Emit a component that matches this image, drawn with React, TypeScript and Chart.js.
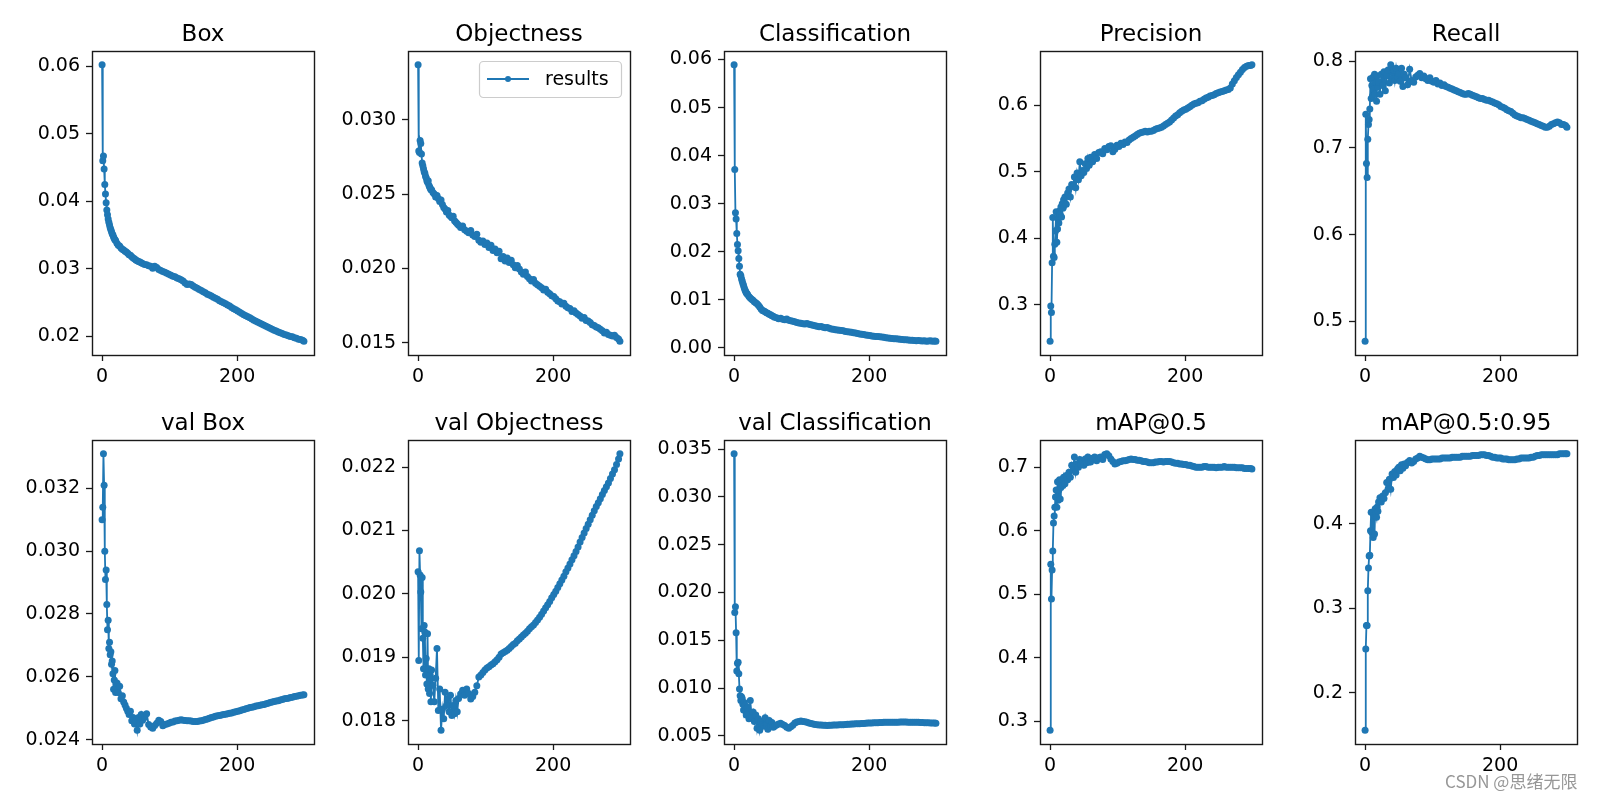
import React, { useEffect, useRef } from "react";
import { Chart, registerables } from "chart.js";

Chart.register(...registerables);

// ---------------- data ----------------
const epochs = [
  0, 1, 2, 3, 4, 5, 6, 7, 8, 9, 10, 11, 12, 13, 14, 15, 16, 17, 18, 19,
  20, 22, 24, 26, 28, 30, 32, 34, 36, 38, 40, 42, 44, 46, 48, 50, 52, 54, 56, 58,
  60, 63, 66, 69, 72, 75, 78, 81, 84, 87,
  90, 93, 96, 99, 102, 105, 108, 111, 114, 117,
  120, 123, 126, 129, 132, 135, 138, 141, 144, 147,
  150, 153, 156, 159, 162, 165, 168, 171, 174, 177,
  180, 183, 186, 189, 192, 195, 198, 201, 204, 207,
  210, 213, 216, 219, 222, 225, 228, 231, 234, 237,
  240, 243, 246, 249, 252, 255, 258, 261, 264, 267,
  270, 273, 276, 279, 282, 285, 288, 291, 294, 297,
  299,
];

const boxLoss = [
  0.0602, 0.046, 0.0467, 0.0448, 0.0425, 0.0411, 0.0398, 0.0387, 0.038, 0.0374,
  0.0369, 0.0365, 0.0361, 0.0358, 0.0355, 0.0352, 0.035, 0.0347, 0.0345, 0.0343,
  0.0342, 0.0338, 0.0335, 0.0334, 0.0331, 0.0329, 0.0328, 0.0326, 0.0325, 0.0323,
  0.0321, 0.032, 0.0318, 0.0316, 0.0315, 0.0313, 0.0312, 0.0311, 0.031, 0.0309,
  0.0308, 0.03065, 0.0306, 0.03045, 0.0304, 0.0301, 0.0304, 0.0302, 0.0299, 0.02975,
  0.0296, 0.0295, 0.02935, 0.0292, 0.02905, 0.0289, 0.02885, 0.02865, 0.02855, 0.0284,
  0.0282, 0.0279, 0.0277, 0.02775, 0.0277, 0.02745, 0.0273, 0.02715, 0.02695, 0.0268,
  0.0266, 0.02645, 0.02625, 0.02615, 0.026, 0.0258, 0.02565, 0.0255, 0.0253, 0.02515,
  0.025, 0.02485, 0.02465, 0.0245, 0.0243, 0.0241, 0.02395, 0.02375, 0.0236, 0.0234,
  0.0232, 0.02305, 0.0229, 0.02275, 0.0226, 0.0224, 0.02225, 0.0221, 0.02195, 0.0218,
  0.02165, 0.0215, 0.02135, 0.0212, 0.02105, 0.0209, 0.0208, 0.02065, 0.02055, 0.02045,
  0.0203, 0.0202, 0.0201, 0.02, 0.01995, 0.0198, 0.01975, 0.0196, 0.01955, 0.01945,
  0.0193,
];

const objLoss = [
  0.0337, 0.0279, 0.0278, 0.0286, 0.0284, 0.0277, 0.0271, 0.0269, 0.0267, 0.0265,
  0.0264, 0.0262, 0.0261, 0.0259, 0.0258, 0.0259, 0.0256, 0.0255, 0.0254, 0.0253,
  0.0253, 0.0251, 0.025, 0.0248, 0.0249, 0.0247, 0.0245, 0.0246, 0.0243, 0.0241,
  0.024, 0.0238, 0.0239, 0.0236, 0.0235, 0.0234, 0.0235, 0.0232, 0.0231, 0.023,
  0.0229, 0.02275, 0.02285, 0.0226, 0.0225, 0.0224, 0.02255, 0.02225, 0.02215, 0.0223,
  0.0219, 0.02175, 0.02185, 0.0216, 0.0217, 0.0214, 0.02155, 0.0212, 0.0213, 0.02105,
  0.02115, 0.02065, 0.0208, 0.0205, 0.0207, 0.0204, 0.02055, 0.02025, 0.02005, 0.0202,
  0.01995, 0.01975, 0.0196, 0.01975, 0.01945, 0.0193, 0.01915, 0.01925, 0.019, 0.0189,
  0.0188, 0.0187, 0.01855, 0.0186, 0.0184, 0.0183, 0.01815, 0.0181, 0.01795, 0.0178,
  0.01775, 0.0176, 0.01765, 0.01745, 0.01735, 0.0173, 0.0171, 0.01715, 0.017, 0.0169,
  0.0168, 0.01665, 0.0167, 0.0165, 0.01645, 0.01635, 0.0162, 0.01615, 0.01605, 0.016,
  0.0159, 0.0158, 0.01565, 0.0157, 0.01555, 0.0155, 0.01545, 0.0155, 0.01535, 0.01525,
  0.0151,
];

const clsLoss = [
  0.0589, 0.0371, 0.0281, 0.0268, 0.0238, 0.0215, 0.0202, 0.0186, 0.017, 0.0153,
  0.015, 0.0144, 0.0139, 0.0134, 0.013, 0.0125, 0.0121, 0.0118, 0.0115, 0.0113,
  0.0111, 0.0107, 0.0104, 0.0101, 0.0099, 0.0096, 0.0094, 0.0092, 0.0089, 0.0085,
  0.0081, 0.0078, 0.0077, 0.0075, 0.0073, 0.0072, 0.007, 0.0069, 0.0067, 0.0066,
  0.0064, 0.00625, 0.00605, 0.00615, 0.00595, 0.00585, 0.006, 0.00575, 0.00565, 0.00555,
  0.00545, 0.0053, 0.0052, 0.00515, 0.00505, 0.005, 0.0051, 0.0049, 0.0048, 0.0047,
  0.0046, 0.0045, 0.0044, 0.00445, 0.0043, 0.0042, 0.00425, 0.0041, 0.00395, 0.0039,
  0.0038, 0.00375, 0.00365, 0.0036, 0.00355, 0.0034, 0.00335, 0.0033, 0.00325, 0.00315,
  0.0031, 0.003, 0.0029, 0.00285, 0.0028, 0.0027, 0.00265, 0.0026, 0.0025, 0.00245,
  0.0024, 0.00235, 0.0023, 0.00225, 0.0022, 0.0021, 0.00205, 0.002, 0.00195, 0.0019,
  0.0019, 0.00185, 0.0018, 0.00175, 0.0017, 0.0017, 0.00165, 0.0016, 0.0016, 0.00155,
  0.0015, 0.00155, 0.0015, 0.00145, 0.0015, 0.0014, 0.00145, 0.0015, 0.0014, 0.00145,
  0.0014,
];

const precision = [
  0.245, 0.298, 0.288, 0.363, 0.431, 0.373, 0.371, 0.391, 0.411, 0.44,
  0.394, 0.414, 0.429, 0.423, 0.441, 0.436, 0.447, 0.432, 0.452, 0.445,
  0.458, 0.462, 0.451, 0.468, 0.474, 0.462, 0.481, 0.478, 0.492, 0.476,
  0.498, 0.488, 0.515, 0.494, 0.502, 0.499, 0.512, 0.505, 0.52, 0.51,
  0.522, 0.515, 0.526, 0.52, 0.529, 0.53, 0.527, 0.535, 0.533, 0.538,
  0.539, 0.53, 0.534, 0.54, 0.538, 0.543, 0.541, 0.545, 0.544, 0.548,
  0.55, 0.552, 0.554, 0.556, 0.558, 0.559, 0.56, 0.561, 0.56, 0.561,
  0.561, 0.562, 0.564, 0.565, 0.566, 0.567, 0.569, 0.571, 0.573, 0.575,
  0.578, 0.581, 0.584, 0.586, 0.589, 0.591, 0.593, 0.594, 0.596, 0.598,
  0.6, 0.602, 0.603, 0.604, 0.606, 0.607, 0.609, 0.611, 0.612, 0.614,
  0.615, 0.616, 0.618, 0.619, 0.62, 0.621, 0.622, 0.623, 0.624, 0.626,
  0.632, 0.637, 0.642, 0.646, 0.65, 0.654, 0.657, 0.659, 0.66, 0.66,
  0.661,
];

const recall = [
  0.477, 0.739, 0.682, 0.666, 0.71, 0.727, 0.733, 0.745, 0.78, 0.757,
  0.772, 0.76, 0.782, 0.768, 0.785, 0.762, 0.776, 0.754, 0.783, 0.77,
  0.776, 0.762, 0.785, 0.772, 0.788, 0.766, 0.783, 0.79, 0.775, 0.796,
  0.78, 0.79, 0.778, 0.792, 0.782, 0.786, 0.777, 0.792, 0.771, 0.785,
  0.781, 0.773, 0.791, 0.778, 0.776, 0.782, 0.784, 0.786, 0.781, 0.783,
  0.78, 0.778, 0.781, 0.777, 0.776, 0.778, 0.774, 0.775, 0.772, 0.773,
  0.771, 0.77, 0.769, 0.768, 0.767, 0.766, 0.765, 0.764, 0.763, 0.762,
  0.762, 0.763, 0.762, 0.761, 0.76, 0.759, 0.758, 0.757, 0.757, 0.756,
  0.755, 0.755, 0.754, 0.753, 0.752, 0.751, 0.75, 0.748, 0.747, 0.746,
  0.744, 0.743, 0.742, 0.74, 0.738, 0.737, 0.736, 0.735, 0.735, 0.734,
  0.733, 0.732, 0.731, 0.73, 0.729, 0.728, 0.727, 0.726, 0.725, 0.724,
  0.724, 0.725, 0.727, 0.728, 0.729, 0.73, 0.729, 0.727, 0.727, 0.726,
  0.724,
];

const valBoxLoss = [
  0.031, 0.0314, 0.0331, 0.0321, 0.03, 0.0291, 0.0294, 0.0283, 0.0275, 0.0278,
  0.0269, 0.0271, 0.0267, 0.0268, 0.0264, 0.0265, 0.0261, 0.0256, 0.0259, 0.0262,
  0.0255, 0.0258, 0.0255, 0.0257, 0.0253, 0.0254, 0.0252, 0.0251, 0.025, 0.0249,
  0.0248, 0.0249, 0.0246, 0.0247, 0.0245, 0.0246, 0.0243, 0.0247, 0.0245, 0.0248,
  0.02462, 0.0247, 0.02482, 0.02448, 0.0244, 0.02436, 0.02445, 0.02452, 0.02462, 0.02458,
  0.02444, 0.02448, 0.0245, 0.02452, 0.02455, 0.02456, 0.02459, 0.0246, 0.02462, 0.02463,
  0.02462, 0.02461, 0.0246, 0.0246, 0.02459, 0.02458, 0.02458, 0.02458, 0.02459, 0.0246,
  0.02462, 0.02464, 0.02466, 0.02468, 0.0247, 0.02472, 0.02474, 0.02476, 0.02477, 0.02478,
  0.0248, 0.02481, 0.02482, 0.02484, 0.02485, 0.02487, 0.02489, 0.0249, 0.02492, 0.02494,
  0.02496, 0.02498, 0.025, 0.02502, 0.02503, 0.02505, 0.02507, 0.02508, 0.02509, 0.02511,
  0.02512, 0.02514, 0.02516, 0.02518, 0.0252, 0.02521, 0.02523, 0.02524, 0.02526, 0.02528,
  0.0253, 0.02531, 0.02532, 0.02534, 0.02535, 0.02537, 0.02538, 0.0254, 0.02541, 0.02542,
  0.02543,
];

const valObjLoss = [
  0.02035, 0.01895, 0.02068, 0.0203, 0.02003, 0.01945, 0.02026, 0.0193, 0.01882, 0.0195,
  0.0194, 0.01872, 0.01898, 0.01858, 0.01937, 0.0185, 0.01882, 0.01843, 0.01872, 0.0183,
  0.0188, 0.01856, 0.0183, 0.01867, 0.01914, 0.01816, 0.0185, 0.01785, 0.01818, 0.01803,
  0.01845, 0.01824, 0.01835, 0.01814, 0.0184, 0.01808, 0.01824, 0.01811, 0.01832, 0.01814,
  0.01835, 0.01842, 0.01848, 0.0184, 0.0185, 0.01843, 0.01834, 0.01838, 0.01845, 0.01855,
  0.01869, 0.01872, 0.01876, 0.0188, 0.01883, 0.01885, 0.01888, 0.0189, 0.01893, 0.01896,
  0.019, 0.01905, 0.01907, 0.01909, 0.01911, 0.01914, 0.01917, 0.0192, 0.01922, 0.01926,
  0.01929, 0.01932, 0.01935, 0.01938, 0.01941, 0.01945, 0.01948, 0.01951, 0.01955, 0.01959,
  0.01963, 0.01968, 0.01973, 0.01978, 0.01983, 0.01988, 0.01994, 0.01999, 0.02004, 0.0201,
  0.02016, 0.02022, 0.02028, 0.02035, 0.02041, 0.02047, 0.02054, 0.0206, 0.02067, 0.02074,
  0.02082, 0.02089, 0.02096, 0.02103, 0.0211, 0.02117, 0.02124, 0.02131, 0.02138, 0.02144,
  0.0215, 0.02157, 0.02163, 0.02169, 0.02175, 0.02182, 0.02189, 0.02196, 0.02204, 0.02213,
  0.02221,
];

const valClsLoss = [
  0.0345, 0.0179, 0.0185, 0.0158, 0.0118, 0.0126, 0.0127, 0.0115, 0.0099, 0.0092,
  0.0087, 0.0091, 0.0089, 0.0083, 0.0077, 0.0085, 0.0082, 0.0076, 0.0072, 0.0079,
  0.008, 0.0068, 0.0087, 0.007, 0.0075, 0.0065, 0.0072, 0.0058, 0.0068, 0.0056,
  0.0065, 0.0062, 0.006, 0.0069, 0.0061, 0.0057, 0.0066, 0.006, 0.0064, 0.0059,
  0.006, 0.00615, 0.00625, 0.00632, 0.0062, 0.00608, 0.0059, 0.0058, 0.00595, 0.00612,
  0.00635, 0.00645, 0.00652, 0.00655, 0.00652, 0.00648, 0.00642, 0.00636, 0.0063, 0.00625,
  0.0062, 0.00618, 0.00615, 0.00613, 0.00612, 0.00611, 0.0061, 0.00611, 0.00612, 0.00613,
  0.00614, 0.00615, 0.00616, 0.00617, 0.00618, 0.0062, 0.00621, 0.00622, 0.00624, 0.00625,
  0.00626, 0.00627, 0.00628, 0.0063, 0.00631, 0.00632, 0.00634, 0.00635, 0.00636, 0.00637,
  0.00638, 0.00639, 0.0064, 0.00641, 0.00642, 0.00642, 0.00643, 0.00643, 0.00644, 0.00644,
  0.00644, 0.00644, 0.00645, 0.00645, 0.00645, 0.00645, 0.00644, 0.00644, 0.00644, 0.00643,
  0.00643, 0.00642, 0.00641, 0.0064, 0.00639, 0.00638, 0.00637, 0.00636, 0.00635, 0.00634,
  0.00633,
];

const map50 = [
  0.286, 0.547, 0.4925, 0.538, 0.568, 0.612, 0.623, 0.637, 0.653, 0.664,
  0.637, 0.677, 0.648, 0.664, 0.68, 0.65, 0.668, 0.674, 0.68, 0.671,
  0.684, 0.674, 0.687, 0.68, 0.692, 0.684, 0.703, 0.695, 0.716, 0.692,
  0.705, 0.7, 0.712, 0.704, 0.71, 0.703, 0.713, 0.707, 0.716, 0.708,
  0.708, 0.714, 0.716, 0.71, 0.715, 0.716, 0.712, 0.72, 0.721, 0.718,
  0.713, 0.709, 0.705, 0.706, 0.708, 0.709, 0.71, 0.71, 0.711, 0.712,
  0.713, 0.712, 0.712, 0.711, 0.711, 0.71, 0.709, 0.709, 0.708, 0.707,
  0.707, 0.707, 0.708, 0.708, 0.709, 0.709, 0.708, 0.709, 0.709, 0.709,
  0.708, 0.707, 0.706, 0.706, 0.705, 0.705, 0.704, 0.704, 0.703, 0.703,
  0.702, 0.701, 0.7, 0.7, 0.7, 0.7, 0.701, 0.701, 0.7, 0.7,
  0.7, 0.7, 0.699, 0.7, 0.7, 0.7, 0.701, 0.7, 0.7, 0.7,
  0.7, 0.7, 0.699, 0.699, 0.699, 0.699, 0.698, 0.698, 0.698, 0.698,
  0.697,
];

const map5095 = [
  0.156, 0.252, 0.28, 0.28, 0.321, 0.348, 0.362, 0.363, 0.392, 0.414,
  0.39, 0.414, 0.384, 0.41, 0.388, 0.418, 0.412, 0.408, 0.42, 0.415,
  0.426, 0.431, 0.426, 0.433, 0.43, 0.437, 0.449, 0.441, 0.453, 0.441,
  0.459, 0.455, 0.462, 0.458, 0.465, 0.467, 0.463, 0.47, 0.466, 0.471,
  0.469, 0.473, 0.475, 0.472, 0.474, 0.477, 0.478, 0.48, 0.479, 0.478,
  0.477, 0.476, 0.476, 0.477, 0.477, 0.477, 0.477, 0.477, 0.478, 0.478,
  0.478, 0.478, 0.478, 0.479, 0.479, 0.479, 0.479, 0.479, 0.48, 0.48,
  0.48, 0.48, 0.48, 0.481, 0.481, 0.481, 0.481, 0.482, 0.482, 0.482,
  0.481, 0.481, 0.48, 0.479, 0.479, 0.478, 0.478, 0.478, 0.477, 0.477,
  0.477, 0.476, 0.476, 0.476, 0.476, 0.477, 0.477, 0.478, 0.478, 0.478,
  0.478, 0.478, 0.479, 0.479, 0.48, 0.481, 0.481, 0.482, 0.482, 0.482,
  0.482, 0.482, 0.482, 0.482, 0.482, 0.482, 0.483, 0.483, 0.483, 0.483,
  0.483,
];

const xTickLabels = ["0", "200"];
const boxTicks = ["0.02", "0.03", "0.04", "0.05", "0.06"];
const objTicks = ["0.015", "0.020", "0.025", "0.030"];
const clsTicks = ["0.00", "0.01", "0.02", "0.03", "0.04", "0.05", "0.06"];
const precisionTicks = ["0.3", "0.4", "0.5", "0.6"];
const recallTicks = ["0.5", "0.6", "0.7", "0.8"];
const valBoxTicks = ["0.024", "0.026", "0.028", "0.030", "0.032"];
const valObjTicks = ["0.018", "0.019", "0.020", "0.021", "0.022"];
const valClsTicks = ["0.005", "0.010", "0.015", "0.020", "0.025", "0.030", "0.035"];
const map50Ticks = ["0.3", "0.4", "0.5", "0.6", "0.7"];
const map5095Ticks = ["0.2", "0.3", "0.4"];

const titles = [
  "Box", "Objectness", "Classification", "Precision", "Recall",
  "val Box", "val Objectness", "val Classification", "mAP@0.5", "mAP@0.5:0.95",
];
const seriesList = [
  boxLoss, objLoss, clsLoss, precision, recall,
  valBoxLoss, valObjLoss, valClsLoss, map50, map5095,
];
const tickList = [
  boxTicks, objTicks, clsTicks, precisionTicks, recallTicks,
  valBoxTicks, valObjTicks, valClsTicks, map50Ticks, map5095Ticks,
];
const legendLabel = "results";

// ---------------- layout / style ----------------
const FONT = "'DejaVu Sans', sans-serif";
const BLUE = "#1f77b4";
const COL_X = [92, 408, 724, 1040, 1355];
const ROW_Y = [51, 440];
const AX_W = 222;
const AX_H = 304;
const PAD_L = 92;
const PAD_T = 46;
const PAD_R = 12;
const PAD_B = 48;
const TICK_FONT = 19;
const TITLE_FONT = 23;
const POINT_R = 3.5;

const framePlugin = {
  id: "frame",
  afterDraw(chart: any) {
    const { ctx, chartArea: a } = chart;
    ctx.save();
    ctx.strokeStyle = "#1a1a1a";
    ctx.lineWidth = 1.4;
    ctx.strokeRect(Math.round(a.left) + 0.5, Math.round(a.top) + 0.5, Math.round(a.right - a.left), Math.round(a.bottom - a.top));
    ctx.restore();
  },
};

const makeTitlePlugin = (text: string) => ({
  id: "panelTitle",
  afterDraw(chart: any) {
    const { ctx, chartArea: a } = chart;
    ctx.save();
    ctx.font = `${TITLE_FONT}px ${FONT}`;
    ctx.fillStyle = "#000";
    ctx.textAlign = "center";
    ctx.textBaseline = "alphabetic";
    ctx.fillText(text, (a.left + a.right) / 2, a.top - 10);
    ctx.restore();
  },
});

const legendPlugin = {
  id: "resultsLegend",
  afterDraw(chart: any) {
    const { ctx, chartArea: a } = chart;
    const w = 142;
    const h = 36;
    const x = a.right - 9 - w;
    const y = a.top + 10;
    ctx.save();
    ctx.beginPath();
    (ctx as any).roundRect(x + 0.5, y + 0.5, w, h, 4);
    ctx.fillStyle = "rgba(255,255,255,0.8)";
    ctx.fill();
    ctx.strokeStyle = "#cccccc";
    ctx.lineWidth = 1.2;
    ctx.stroke();
    const cy = y + h / 2;
    ctx.strokeStyle = BLUE;
    ctx.lineWidth = 1.8;
    ctx.beginPath();
    ctx.moveTo(x + 8, cy);
    ctx.lineTo(x + 50, cy);
    ctx.stroke();
    ctx.fillStyle = BLUE;
    ctx.beginPath();
    ctx.arc(x + 29, cy, 3, 0, Math.PI * 2);
    ctx.fill();
    ctx.fillStyle = "#000";
    ctx.font = `${TICK_FONT}px ${FONT}`;
    ctx.textAlign = "left";
    ctx.textBaseline = "middle";
    ctx.fillText(legendLabel, x + 66, cy + 1);
    ctx.restore();
  },
};

function Panel({ idx }: { idx: number }) {
  const ref = useRef<HTMLCanvasElement | null>(null);
  const col = idx % 5;
  const row = Math.floor(idx / 5);
  const width = PAD_L + AX_W + PAD_R;
  const height = PAD_T + AX_H + PAD_B;

  useEffect(() => {
    const vals = seriesList[idx];
    const labels = tickList[idx];
    const lo = Math.min(...vals);
    const hi = Math.max(...vals);
    const m = (hi - lo) * 0.05;
    const xm = (epochs[epochs.length - 1] - epochs[0]) * 0.05;
    const tickFont = { family: FONT, size: TICK_FONT };
    const plugins: any[] = [framePlugin, makeTitlePlugin(titles[idx])];
    if (idx === 1) plugins.push(legendPlugin);

    const chart = new Chart(ref.current as HTMLCanvasElement, {
      type: "line",
      data: {
        datasets: [
          {
            label: legendLabel,
            data: epochs.map((e, i) => ({ x: e, y: vals[i] })),
            borderColor: BLUE,
            backgroundColor: BLUE,
            borderWidth: 1.8,
            pointRadius: POINT_R,
            pointHoverRadius: POINT_R,
            pointBorderWidth: 0,
            pointBackgroundColor: BLUE,
            tension: 0,
          },
        ],
      },
      options: {
        animation: false,
        responsive: false,
        events: [],
        layout: { padding: { left: 0, top: PAD_T, right: PAD_R, bottom: 0 } },
        plugins: {
          legend: { display: false },
          tooltip: { enabled: false },
          title: { display: false },
        },
        scales: {
          x: {
            type: "linear",
            min: epochs[0] - xm,
            max: epochs[epochs.length - 1] + xm,
            afterFit: (s: any) => {
              s.height = PAD_B;
            },
            afterBuildTicks: (s: any) => {
              s.ticks = xTickLabels.map((t) => ({ value: parseFloat(t) }));
            },
            ticks: {
              font: tickFont,
              color: "#000",
              padding: 5,
              maxRotation: 0,
              autoSkip: false,
              callback: (_v: any, i: number) => xTickLabels[i],
            },
            grid: {
              display: true,
              drawOnChartArea: false,
              drawTicks: true,
              tickLength: 6,
              tickColor: "#1a1a1a",
              tickWidth: 1.3,
            },
            border: { display: false },
          },
          y: {
            type: "linear",
            min: lo - m,
            max: hi + m,
            afterFit: (s: any) => {
              s.width = PAD_L;
            },
            afterBuildTicks: (s: any) => {
              s.ticks = labels.map((t) => ({ value: parseFloat(t) }));
            },
            ticks: {
              font: tickFont,
              color: "#000",
              padding: 6,
              autoSkip: false,
              callback: (_v: any, i: number) => labels[i],
            },
            grid: {
              display: true,
              drawOnChartArea: false,
              drawTicks: true,
              tickLength: 6,
              tickColor: "#1a1a1a",
              tickWidth: 1.3,
            },
            border: { display: false },
          },
        },
      } as any,
      plugins,
    });
    return () => chart.destroy();
  }, [idx]);

  return (
    <canvas
      ref={ref}
      width={width}
      height={height}
      style={{
        position: "absolute",
        left: COL_X[col] - PAD_L,
        top: ROW_Y[row] - PAD_T,
        width,
        height,
      }}
    />
  );
}

export default function App() {
  return (
    <div
      style={{
        position: "fixed",
        left: 0,
        top: 0,
        width: 1598,
        height: 799,
        background: "#ffffff",
        overflow: "hidden",
      }}
    >
      {titles.map((_, i) => (
        <Panel key={i} idx={i} />
      ))}
      <div
        style={{
          position: "absolute",
          left: 1445,
          top: 768,
          fontFamily: "'Noto Sans CJK SC', 'Noto Sans', sans-serif",
          fontSize: 17,
          color: "rgba(140,140,140,0.9)",
          whiteSpace: "nowrap",
        }}
      >
        CSDN @思绪无限
      </div>
    </div>
  );
}
